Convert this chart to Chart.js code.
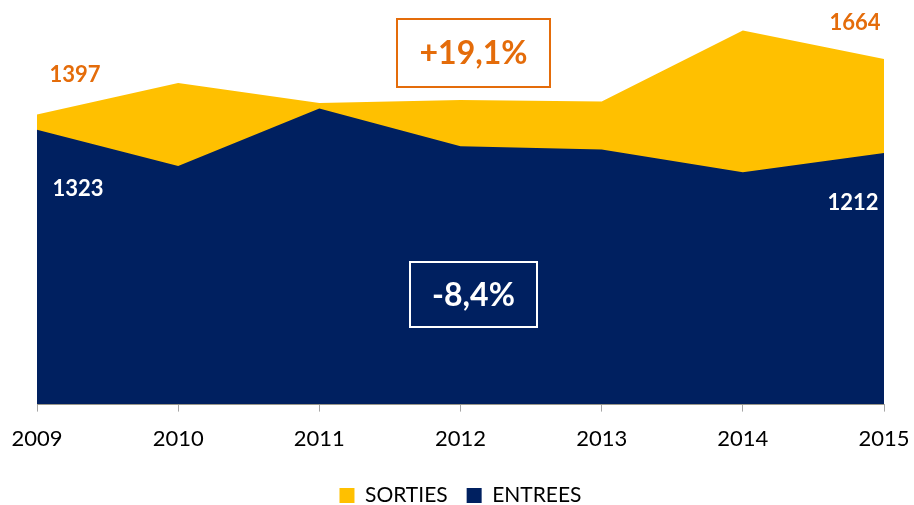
<!DOCTYPE html>
<html>
<head>
<meta charset="utf-8">
<script src="https://cdn.jsdelivr.net/npm/chart.js@4/dist/chart.umd.min.js"></script>
<style>
  html, body { margin: 0; padding: 0; background: #fff; }
  #wrap { width: 914px; height: 505px; }
</style>
</head>
<body>
<div id="wrap"><canvas id="chart"></canvas></div>
<script>
const years = ["2009", "2010", "2011", "2012", "2013", "2014", "2015"];
const sorties = [1397, 1548, 1452, 1467, 1459, 1801, 1664];
const entrees = [1323, 1149, 1426, 1244, 1228, 1119, 1212];
const evolSorties = "+19,1%";
const evolEntrees = "-8,4%";

const ORANGE = "#E46C0A";
const FONT = "Lato, 'Open Sans', sans-serif";

// valeurs de début/fin + encadrés d'évolution
const labelsPlugin = {
  id: "labels",
  afterDatasetsDraw(chart) {
    const ctx = chart.ctx;
    const x = chart.scales.x, y = chart.scales.y;
    const last = years.length - 1;
    ctx.save();
    ctx.font = "bold 22px " + FONT;
    ctx.textAlign = "center";
    ctx.textBaseline = "middle";
    ctx.fillStyle = ORANGE;
    ctx.fillText(sorties[0], x.getPixelForValue(0) + 38, y.getPixelForValue(sorties[0]) - 40);
    ctx.fillText(sorties[last], x.getPixelForValue(last) - 29, y.getPixelForValue(sorties[last]) - 36);
    ctx.fillStyle = "#fff";
    ctx.fillText(entrees[0], x.getPixelForValue(0) + 41, y.getPixelForValue(entrees[0]) + 59);
    ctx.fillText(entrees[last], x.getPixelForValue(last) - 31, y.getPixelForValue(entrees[last]) + 50);

    ctx.font = "bold 32px " + FONT;
    ctx.lineWidth = 2;
    ctx.strokeStyle = ORANGE;
    ctx.strokeRect(397, 19, 153, 68);
    ctx.fillStyle = ORANGE;
    ctx.fillText(evolSorties, 473.5, 54);
    ctx.strokeStyle = "#fff";
    ctx.strokeRect(410, 262, 127, 65);
    ctx.fillStyle = "#fff";
    ctx.fillText(evolEntrees, 473.5, 296);
    ctx.restore();
  }
};

new Chart(document.getElementById("chart"), {
  type: "line",
  data: {
    labels: years,
    datasets: [
      { label: "SORTIES", data: sorties, backgroundColor: "#FFC000", borderWidth: 0, fill: "origin", pointRadius: 0, tension: 0, order: 2 },
      { label: "ENTREES", data: entrees, backgroundColor: "#002060", borderWidth: 0, fill: "origin", pointRadius: 0, tension: 0, order: 1 }
    ]
  },
  options: {
    responsive: true,
    maintainAspectRatio: false,
    animation: false,
    layout: { padding: { top: 10, left: 37, right: 30, bottom: -11 } },
    plugins: {
      tooltip: { enabled: false },
      legend: {
        position: "bottom",
        labels: {
          color: "#000", font: { family: FONT, size: 21 }, boxWidth: 15, boxHeight: 15, padding: 19,
          sort: (a, b) => a.datasetIndex - b.datasetIndex
        }
      }
    },
    scales: {
      x: {
        offset: false,
        border: { color: "#a6a6a6", width: 1 },
        grid: { drawOnChartArea: false, color: "#a6a6a6", tickLength: 7 },
        ticks: { color: "#000", font: { family: FONT, size: 22 }, padding: 14, maxRotation: 0 },
        afterFit: (scale) => { scale.paddingLeft = 0; scale.paddingRight = 0; }
      },
      y: { display: false, min: 0, max: 1900 }
    }
  },
  plugins: [labelsPlugin]
});
</script>
</body>
</html>
